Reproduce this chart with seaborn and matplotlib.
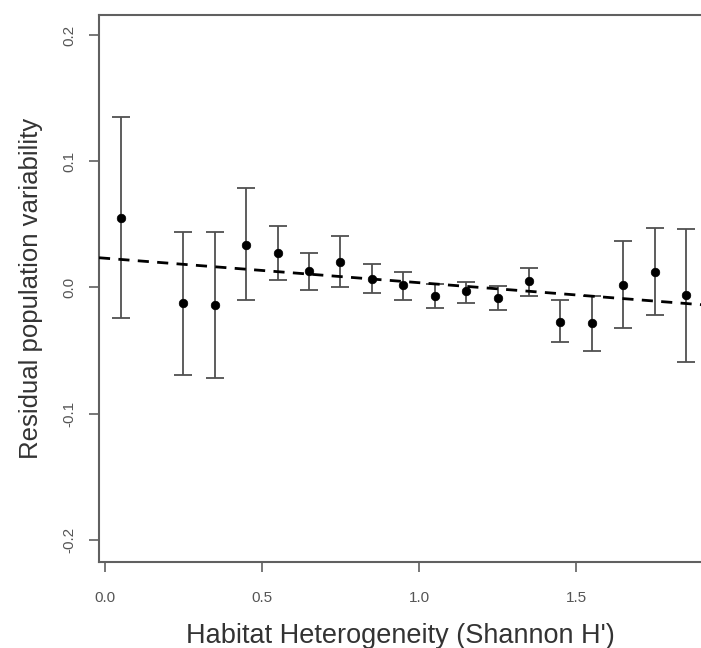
import matplotlib
matplotlib.use("Agg")
import matplotlib.pyplot as plt
import seaborn as sns
import numpy as np
import pandas as pd

# ---- data ----
heterogeneity = [0.05, 0.25, 0.35, 0.45, 0.55, 0.65, 0.75, 0.85, 0.95,
                 1.05, 1.15, 1.25, 1.35, 1.45, 1.55, 1.65, 1.75, 1.85]
residual = [0.055, -0.012, -0.014, 0.034, 0.027, 0.013, 0.020, 0.007, 0.002,
            -0.007, -0.003, -0.008, 0.005, -0.027, -0.028, 0.002, 0.012, -0.006]
upper = [0.135, 0.044, 0.044, 0.079, 0.049, 0.027, 0.041, 0.019, 0.012,
         0.003, 0.0045, 0.001, 0.0155, -0.010, -0.0066, 0.037, 0.047, 0.046]
lower = [-0.024, -0.069, -0.072, -0.010, 0.006, -0.002, 0.000, -0.004, -0.010,
         -0.016, -0.012, -0.018, -0.007, -0.043, -0.050, -0.032, -0.022, -0.059]
fit_intercept = 0.0232
fit_slope = -0.0194

x_ticks = [0.0, 0.5, 1.0, 1.5]
x_tick_labels = ["0.0", "0.5", "1.0", "1.5"]
y_ticks = [-0.2, -0.1, 0.0, 0.1, 0.2]
y_tick_labels = ["-0.2", "-0.1", "0.0", "0.1", "0.2"]

df = pd.DataFrame({"H": heterogeneity, "resid": residual,
                   "upper": upper, "lower": lower})

sns.set_style("white")
plt.rcParams["font.family"] = ["Liberation Sans", "DejaVu Sans"]

fig = plt.figure(figsize=(7.01, 6.48), dpi=100)
ax = fig.add_axes([99 / 701, 1 - 562 / 648, 1 - 99 / 701, (562 - 15) / 648])

err_color = "#505050"
yerr = np.vstack([df["resid"] - df["lower"], df["upper"] - df["resid"]])
ax.errorbar(df["H"], df["resid"], yerr=yerr, fmt="none", ecolor=err_color,
            elinewidth=1.3, capsize=6.5, capthick=1.3, zorder=2)

ax.axline((0, fit_intercept), slope=fit_slope, color="black", lw=2.0,
          linestyle=(0, (4, 3)), zorder=3)

sns.scatterplot(data=df, x="H", y="resid", ax=ax, color="black", s=38,
                edgecolor="black", linewidth=0.5, zorder=4)

ax.set_xlim(-0.019, 1.898)
ax.set_ylim(-0.2175, 0.2159)

ax.set_xticks(x_ticks)
ax.set_xticklabels(x_tick_labels)
ax.set_yticks(y_ticks)
ax.set_yticklabels(y_tick_labels, rotation=90, va="center")

spine_color = "#606060"
for side in ["left", "bottom", "top"]:
    ax.spines[side].set_visible(True)
    ax.spines[side].set_color(spine_color)
    ax.spines[side].set_linewidth(1.5)
ax.spines["right"].set_visible(False)

ax.tick_params(axis="both", which="major", direction="out", length=7,
               width=1.2, color=spine_color, labelcolor="#555555",
               labelsize=11, bottom=True, left=True)
ax.tick_params(axis="x", pad=14)
ax.tick_params(axis="y", pad=9)

ax.set_xlabel("Habitat Heterogeneity (Shannon H')", fontsize=19.5,
              color="#333333", labelpad=13)
ax.set_ylabel("Residual population variability", fontsize=18.5,
              color="#333333", labelpad=14)

fig.savefig("out.png", dpi=100, facecolor="white")
